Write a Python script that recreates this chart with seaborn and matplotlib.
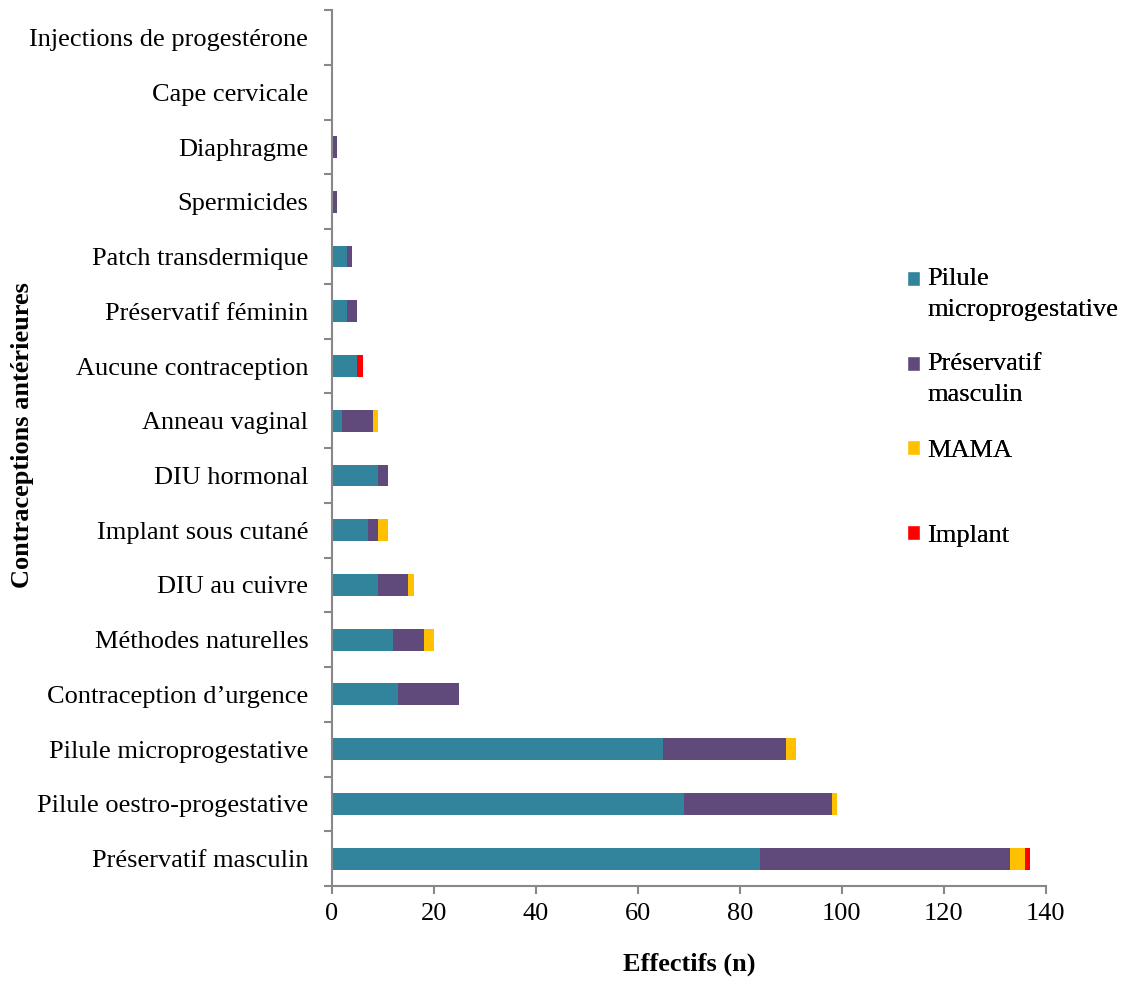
import pandas as pd
import numpy as np
import matplotlib
matplotlib.use("Agg")
import matplotlib.pyplot as plt
import matplotlib.patches as mpatches
from matplotlib.legend_handler import HandlerPatch
import seaborn as sns

# categories, from top to bottom as in the chart
categories = ["Injections de progestérone", "Cape cervicale", "Diaphragme", "Spermicides",
              "Patch transdermique", "Préservatif féminin", "Aucune contraception",
              "Anneau vaginal", "DIU hormonal", "Implant sous cutané", "DIU au cuivre",
              "Méthodes naturelles", "Contraception d\u2019urgence", "Pilule microprogestative",
              "Pilule oestro-progestative", "Préservatif masculin"]

pilule_micro = [0, 0, 0, 0, 3, 3, 5, 2, 9, 7, 9, 12, 13, 65, 69, 84]
preservatif_masc = [0, 0, 1, 1, 1, 2, 0, 6, 2, 2, 6, 6, 12, 24, 29, 49]
mama = [0, 0, 0, 0, 0, 0, 0, 1, 0, 2, 1, 2, 0, 2, 1, 3]
implant = [0, 0, 0, 0, 0, 0, 1, 0, 0, 0, 0, 0, 0, 0, 0, 1]

series_names = ["Pilule\nmicroprogestative", "Préservatif\nmasculin", "MAMA", "Implant"]
colors = ["#31849B", "#604A7B", "#FFC000", "#FF0000"]

df = pd.DataFrame({"cat": categories,
                   "s1": pilule_micro, "s2": preservatif_masc, "s3": mama, "s4": implant})
# cumulative sums for stacking
df["c1"] = df["s1"]
df["c2"] = df["c1"] + df["s2"]
df["c3"] = df["c2"] + df["s3"]
df["c4"] = df["c3"] + df["s4"]

sns.set_style("white")
plt.rcParams["font.family"] = ["Liberation Serif", "DejaVu Serif"]
plt.rcParams["text.color"] = "black"
plt.rcParams["axes.labelcolor"] = "black"
fs = 19

fig = plt.figure(figsize=(11.31, 9.84), dpi=100)
ax = fig.add_axes([0.2935, 0.0996, 0.631, 0.890])

# draw largest cumulative first so smaller ones sit on top
for col, color in zip(["c4", "c3", "c2", "c1"], colors[::-1]):
    sns.barplot(data=df, x=col, y="cat", order=categories, color=color, width=0.4,
                orient="h", ax=ax, saturation=1, linewidth=0)

ax.set_xlim(0, 140)
ax.set_xticks(range(0, 141, 20))
ax.set_ylim(len(categories) - 0.5, -0.5)
ax.set_yticks(range(len(categories)))
ax.set_yticklabels(categories)
ax.set_yticks(np.arange(-0.5, len(categories), 1), minor=True)
ax.tick_params(axis="y", which="major", left=True, length=0, pad=17, labelsize=fs,
               labelcolor="black")
ax.tick_params(axis="y", which="minor", left=True, length=6, width=1.5, color="#888888",
               direction="out")
ax.tick_params(axis="x", which="major", bottom=True, length=6, width=1.5, color="#888888",
               direction="out", labelsize=fs, pad=6, labelcolor="black")

for side in ["top", "right"]:
    ax.spines[side].set_visible(False)
for side in ["left", "bottom"]:
    ax.spines[side].set_color("#888888")
    ax.spines[side].set_linewidth(1.5)

ax.set_xlabel("Effectifs (n)", fontsize=fs, fontweight="bold", labelpad=20)
ax.set_ylabel("")
fig.text(0.02, 1 - 435 / 984, "Contraceptions antérieures", rotation=90, fontsize=fs,
         fontweight="bold", ha="center", va="center")


# legend square sits next to the first line of the label, like Excel does
def square_handler(shift):
    def patch_func(legend, orig_handle, xdescent, ydescent, width, height, fontsize):
        return mpatches.Rectangle((-xdescent, -ydescent + shift), width, height)
    return HandlerPatch(patch_func=patch_func)


legend_tops = [268, 353, 440, 525]
for name, color, top in zip(series_names, colors, legend_tops):
    n_lines = name.count("\n") + 1
    shift = 11 * (n_lines - 1)
    leg = fig.legend([mpatches.Patch(facecolor=color)], [name], loc="upper left",
                     bbox_to_anchor=(907 / 1131, 1 - top / 984), frameon=False,
                     fontsize=fs, handlelength=0.5, handleheight=0.5, handletextpad=0.27,
                     borderpad=0, borderaxespad=0,
                     handler_map={mpatches.Patch: square_handler(shift)})
    for t in leg.get_texts():
        t.set_linespacing(1.55)
    fig.add_artist(leg)

fig.savefig("out.png", dpi=100)
